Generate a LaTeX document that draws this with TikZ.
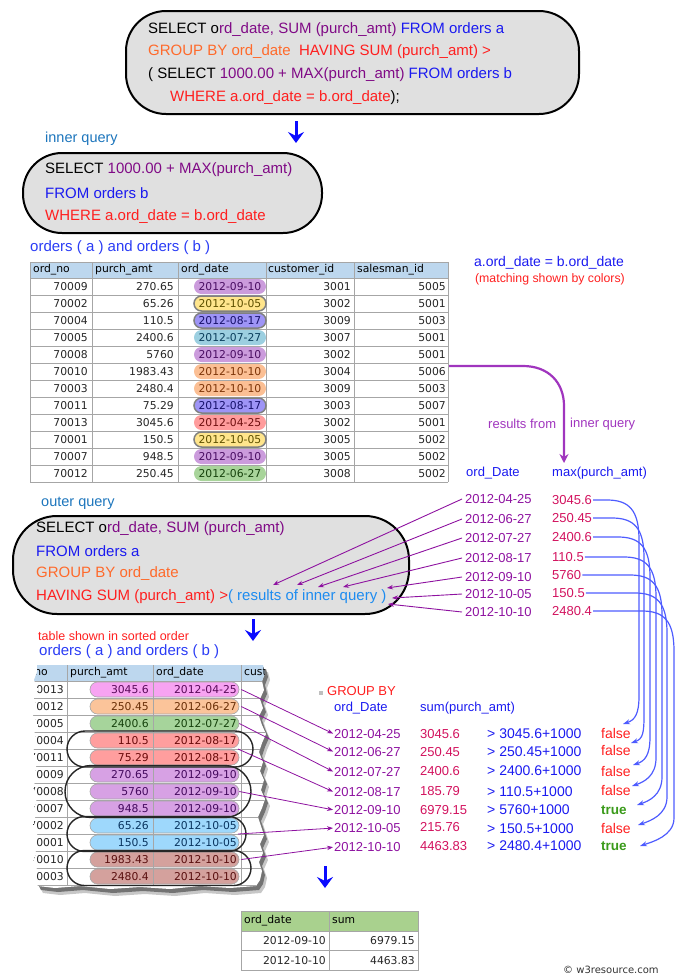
\documentclass[tikz,border=0pt]{standalone}
\usepackage{fontspec}
\setmainfont{Liberation Sans}
\newfontfamily\vfont{DejaVu Sans}
\usetikzlibrary{arrows.meta,shapes.misc}
\definecolor{boxgray}{HTML}{E0E0E0}
\definecolor{cpurple}{HTML}{800A86}
\definecolor{cblue}{HTML}{1A1AF0}
\definecolor{corange}{HTML}{FF6A2B}
\definecolor{cred}{HTML}{FF1F1F}
\definecolor{clblue}{HTML}{1E8CF0}
\definecolor{clabel}{HTML}{1C75BC}
\definecolor{ctitle}{HTML}{2A3CF5}
\definecolor{hdrblue}{HTML}{BDD7EE}
\definecolor{gridc}{HTML}{A6A6A6}
\definecolor{cdate}{HTML}{8E12A0}
\definecolor{cval}{HTML}{D2125E}
\definecolor{ccurve}{HTML}{4E5CFF}
\definecolor{cconn}{HTML}{A035BE}
\definecolor{cgreen}{HTML}{3A9A1A}
\definecolor{hdrgreen}{HTML}{A9D18E}
\definecolor{arrblue}{HTML}{0A0AFF}
% pills table 1
\definecolor{fA}{HTML}{CB9BDC}\definecolor{tA}{HTML}{4A0E63}
\definecolor{fB}{HTML}{FFE58C}\definecolor{tB}{HTML}{5E5000}
\definecolor{fC}{HTML}{9E94F6}\definecolor{tC}{HTML}{16106A}
\definecolor{fD}{HTML}{9CCFE0}\definecolor{tD}{HTML}{0B3E5C}
\definecolor{fE}{HTML}{FBBF94}\definecolor{tE}{HTML}{7E3508}
\definecolor{fF}{HTML}{FF9C9C}\definecolor{tF}{HTML}{701010}
\definecolor{fG}{HTML}{A8D49A}\definecolor{tG}{HTML}{16420C}
% pills sorted table
\definecolor{sA}{HTML}{F7A3F2}\definecolor{uA}{HTML}{5A0A5A}
\definecolor{sB}{HTML}{FBC49A}\definecolor{uB}{HTML}{6A3008}
\definecolor{sC}{HTML}{A6D49B}\definecolor{uC}{HTML}{16420C}
\definecolor{sD}{HTML}{FF9E9E}\definecolor{uD}{HTML}{6A0A0A}
\definecolor{sE}{HTML}{D7A1E4}\definecolor{uE}{HTML}{440A5E}
\definecolor{sF}{HTML}{9ED8FC}\definecolor{uF}{HTML}{0A3560}
\definecolor{sG}{HTML}{D4A19D}\definecolor{uG}{HTML}{5A1010}
\begin{document}
\begin{tikzpicture}[x=1pt,y=-1pt,
  sqlbox/.style={draw=black, line width=2pt, fill=boxgray, anchor=north west, inner sep=0pt},
  sq/.style={anchor=west, inner sep=0pt, font=\fontsize{15}{18}\selectfont},
  lbl/.style={anchor=west, inner sep=0pt, font=\fontsize{13}{16}\selectfont},
  tb/.style={inner sep=0pt, font=\vfont\fontsize{10.8}{12}\selectfont, text=black!85},
  pill/.style={rounded rectangle, inner sep=0pt, minimum height=15pt, minimum width=72pt, font=\vfont\fontsize{10.8}{12}\selectfont},
  pillA/.style={fill=fA, text=tA},
  pillB/.style={fill=fB, text=tB, draw=black!50, line width=1.5pt},
  pillC/.style={fill=fC, text=tC, draw=black!50, line width=1.5pt},
  pillD/.style={fill=fD, text=tD},
  pillE/.style={fill=fE, text=tE},
  pillF/.style={fill=fF, text=tF},
  pillG/.style={fill=fG, text=tG},
  spill/.style={rounded rectangle, inner sep=0pt, minimum height=15pt, minimum width=149pt, draw=black!35, line width=0.6pt},
  groupoval/.style={rounded rectangle, draw=black!85, line width=1.4pt, inner sep=0pt},
  bigarrow/.style={draw=arrblue, line width=3pt, -{Stealth[length=11pt,width=16pt,inset=4pt]}},
  parrow/.style={draw=cdate, line width=0.9pt, -{Stealth[length=6pt,width=4.5pt]}},
  garrow/.style={draw=cdate, line width=0.8pt, shorten >=1pt, -{Stealth[length=6pt,width=4.5pt]}},
  bcurve/.style={draw=ccurve, line width=1.2pt, -{Stealth[length=7pt,width=5pt]}},
  isfalse/.style={text=cred, font=\fontsize{14}{16}\selectfont},
  istrue/.style={text=cgreen, font=\bfseries\fontsize{13.5}{16}\selectfont}
]
\useasboundingbox (0,0) rectangle (684,980);

% ---------- top query ----------
\node[sqlbox, rounded corners=40pt, minimum width=453pt, minimum height=103pt] (topbox) at (125,10) {};
\node[sq] (q1) at (148,30) {SELECT o\textcolor{cpurple}{rd\_date, SUM (purch\_amt)} \textcolor{cblue}{FROM orders a}};
\node[sq] (q2) at (148,52) {\textcolor{corange}{GROUP BY ord\_date}\ \ \textcolor{cred}{HAVING SUM (purch\_amt) >}};
\node[sq] (q3) at (148,75) {( SELECT \textcolor{cpurple}{1000.00 + MAX(purch\_amt)} \textcolor{cblue}{FROM orders b}};
\node[sq] (q4) at (170,98) {\textcolor{cred}{WHERE a.ord\_date = b.ord\_date});};

\coordinate (a1s) at (296,121);
\coordinate (a1e) at (296,143);
\draw[bigarrow] (a1s) -- (a1e);

% ---------- inner query ----------
\node[anchor=west, inner sep=0pt, text=clabel, font=\fontsize{14.5}{17}\selectfont] (innerlbl) at (45,139) {inner query};
\node[sqlbox, rounded corners=39pt, minimum width=299pt, minimum height=80pt] (innerbox) at (22,152) {};
\node[sq] (i1) at (45,170) {SELECT \textcolor{cpurple}{1000.00 + MAX(purch\_amt)}};
\node[sq] (i2) at (45,193) {\textcolor{cblue}{FROM orders b}};
\node[sq] (i3) at (45,217) {\textcolor{cred}{WHERE a.ord\_date = b.ord\_date}};

% ---------- table 1 ----------
\node[sq, text=ctitle] (t1title) at (30,248) {orders ( a ) and orders ( b )};
\fill[hdrblue] (30,262) rectangle (448,278);
\foreach \yy in {262,278,295,312,329,346,363,380,397,414,431,448,465,482}
  \draw[gridc, line width=0.8pt] (30,\yy) -- (448,\yy);
\foreach \xx in {30,92,178,266,354,448}
  \draw[gridc, line width=0.8pt] (\xx,262) -- (\xx,482);
\node[tb,anchor=west,text=black] (h1) at (33,270) {ord\_no};
\node[tb,anchor=west,text=black] (h2) at (95,270) {purch\_amt};
\node[tb,anchor=west,text=black] (h3) at (181,270) {ord\_date};
\node[tb,anchor=west,text=black] (h4) at (268,270) {customer\_id};
\node[tb,anchor=west,text=black] (h5) at (357,270) {salesman\_id};
\foreach \n/\a/\d/\c/\s/\st [count=\i] in {
70009/270.65/2012-09-10/3001/5005/pillA,
70002/65.26/2012-10-05/3002/5001/pillB,
70004/110.5/2012-08-17/3009/5003/pillC,
70005/2400.6/2012-07-27/3007/5001/pillD,
70008/5760/2012-09-10/3002/5001/pillA,
70010/1983.43/2012-10-10/3004/5006/pillE,
70003/2480.4/2012-10-10/3009/5003/pillE,
70011/75.29/2012-08-17/3003/5007/pillC,
70013/3045.6/2012-04-25/3002/5001/pillF,
70001/150.5/2012-10-05/3005/5002/pillB,
70007/948.5/2012-09-10/3005/5002/pillA,
70012/250.45/2012-06-27/3008/5002/pillG}{
  \pgfmathsetmacro{\yy}{286.5+17*(\i-1)}
  \node[tb,anchor=east] (ta\i) at (88,\yy) {\n};
  \node[tb,anchor=east] (tp\i) at (174,\yy) {\a};
  \node[pill,\st] (td\i) at (230,\yy) {\d};
  \node[tb,anchor=east] (tc\i) at (351,\yy) {\c};
  \node[tb,anchor=east] (ts\i) at (446,\yy) {\s};
}

% ---------- right notes ----------
\node[inner sep=0pt, text=cblue, font=\fontsize{14}{16}\selectfont] (eqnote) at (549,263) {a.ord\_date = b.ord\_date};
\node[inner sep=0pt, text=cred, font=\fontsize{12.3}{14}\selectfont] (matchnote) at (550,279) {(matching shown by colors)};

\coordinate (tconn) at (449,366);
\coordinate (inres) at (564,463);
\draw[draw=cconn, line width=2.2pt, -{Stealth[length=9pt,width=9pt]}] (tconn) -- (523,366) .. controls (548,366) and (564,382) .. (564,406) -- (inres);
\node[lbl, text=cconn] (resfrom) at (488,424) {results from};
\node[lbl, text=cconn] (resinner) at (570,424) {inner query};

\node[lbl, text=cblue] (odh) at (466,473) {ord\_Date};
\node[lbl, text=cblue] (mxh) at (552,473) {max(purch\_amt)};

\foreach \dy/\dt/\my/\mv [count=\k] in {
499/2012-04-25/500/3045.6,
519/2012-06-27/518/250.45,
538/2012-07-27/537/2400.6,
558/2012-08-17/557/110.5,
577/2012-09-10/575/5760,
594/2012-10-05/593/150.5,
612/2012-10-10/611/2480.4}{
  \node[lbl, text=cdate] (d\k) at (465,\dy) {\dt};
  \node[lbl, text=cval] (m\k) at (552,\my) {\mv};
}

% ---------- outer query ----------
\node[anchor=west, inner sep=0pt, text=clabel, font=\fontsize{14.5}{17}\selectfont] (outerlbl) at (41,503) {outer query};
\node[sqlbox, rounded corners=44pt, minimum width=396pt, minimum height=98pt] (outerbox) at (12,515) {};
\node[sq] (o1) at (36,529) {SELECT o\textcolor{cpurple}{rd\_date, SUM (purch\_amt)}};
\node[sq] (o2) at (36,551) {\textcolor{cblue}{FROM orders a}};
\node[sq] (o3) at (36,574) {\textcolor{corange}{GROUP BY ord\_date}};
\node[sq] (o4) at (36,597) {\textcolor{cred}{HAVING SUM (purch\_amt) >}\textcolor{clblue}{( results of inner query )}};

\foreach \k/\tx/\ty in {1/273/585,2/297/585,3/318/587,4/343/587,5/387/588,6/392/598,7/388/604}{
  \coordinate (ot\k) at (\tx,\ty);
  \draw[parrow] ([xshift=-3pt]d\k.west) -- (ot\k);
}

% ---------- blue curves ----------
\foreach \k/\vx/\sy/\tx/\ty in {1/639/500/623/724,2/644/518/631/743,3/650/537/633/765,4/656/557/632/786,5/662/575/637/805,6/667/593/638/825,7/674/611/640/846}{
  \coordinate (bt\k) at (\tx,\ty);
  \draw[bcurve] ([xshift=1pt]m\k.east) -- (\vx-32,\sy) .. controls (\vx-10,\sy) and (\vx,\sy+10) .. (\vx,\sy+40) -- (\vx,\ty-28) .. controls (\vx,\ty-10) and (\tx+12,\ty-4) .. (bt\k);
}

% ---------- sorted table ----------
\coordinate (a2s) at (253,619);
\coordinate (a2e) at (253,641);
\draw[bigarrow] (a2s) -- (a2e);
\node[anchor=west, inner sep=0pt, text=cred, font=\fontsize{12.5}{15}\selectfont] (sortnote) at (38,636) {table shown in sorted order};
\node[sq, text=ctitle] (t2title) at (39,652) {orders ( a ) and orders ( b )};

\def\tornpath{(37,665) -- (263,665) -- (265,673) -- (262,681) -- (264,690) -- (260,699) -- (263,708) -- (259,716) -- (262,725) -- (266,734) -- (262,743) -- (259,752) -- (263,762) -- (260,771) -- (264,780) -- (261,790) -- (265,799) -- (262,808) -- (258,817) -- (261,826) -- (264,835) -- (260,844) -- (263,853) -- (259,862) -- (262,871) -- (260,880) -- (256,886) -- (230,888) -- (200,886) -- (170,889) -- (140,887) -- (110,889) -- (80,886) -- (55,888) -- (38,886) -- (34,878) -- (37,869) -- (33,860) -- (36,851) -- (34,842) -- (38,833) -- (33,824) -- (36,815) -- (34,806) -- (38,797) -- (33,788) -- (36,779) -- (35,770) -- (38,761) -- (33,752) -- (36,743) -- (34,734) -- (38,725) -- (33,716) -- (36,707) -- (34,698) -- (38,689) -- (34,680) -- (37,672) -- cycle}
\begin{scope}[shift={(5,7)}]
  \fill[black!22] \tornpath;
\end{scope}
\begin{scope}[shift={(3,4)}]
  \fill[black!55] \tornpath;
\end{scope}
\begin{scope}
  \clip \tornpath;
  \fill[white] (20,660) rectangle (280,895);
  \fill[hdrblue] (20,665) rectangle (280,681);
  \foreach \yy in {681,698,715,732,749,766,783,800,817,834,851,868,885}
    \draw[gridc, line width=0.8pt] (20,\yy) -- (280,\yy);
  \foreach \xx in {67,241}
    \draw[gridc, line width=0.8pt] (\xx,665) -- (\xx,885);
  \node[tb,anchor=east,text=black] (sh1) at (48,673) {ord\_no};
  \node[tb,anchor=west,text=black] (sh2) at (70,673) {purch\_amt};
  \node[tb,anchor=west,text=black] (sh3) at (156,673) {ord\_date};
  \node[tb,anchor=west,text=black] (sh4) at (244,673) {customer\_id};
  \foreach \n/\a/\d/\fc/\tc [count=\i] in {
  70013/3045.6/2012-04-25/sA/uA,
  70012/250.45/2012-06-27/sB/uB,
  70005/2400.6/2012-07-27/sC/uC,
  70004/110.5/2012-08-17/sD/uD,
  70011/75.29/2012-08-17/sD/uD,
  70009/270.65/2012-09-10/sE/uE,
  70008/5760/2012-09-10/sE/uE,
  70007/948.5/2012-09-10/sE/uE,
  70002/65.26/2012-10-05/sF/uF,
  70001/150.5/2012-10-05/sF/uF,
  70010/1983.43/2012-10-10/sG/uG,
  70003/2480.4/2012-10-10/sG/uG}{
    \pgfmathsetmacro{\yy}{689.5+17*(\i-1)}
    \node[spill, fill=\fc] (sp\i) at (164.5,\yy) {};
    \node[tb,anchor=east] (sn\i) at (64,\yy) {\n};
    \node[tb,anchor=east,text=\tc] (sa\i) at (149,\yy) {\a};
    \node[tb,anchor=east,text=\tc] (sd\i) at (237,\yy) {\d};
  }
  \draw[gridc, line width=0.6pt] (153,665) -- (153,885);
\end{scope}

\node[groupoval, minimum width=186pt, minimum height=36pt] (ov1) at (160,749) {};
\node[groupoval, minimum width=186pt, minimum height=52pt] (ov2) at (158,791.5) {};
\node[groupoval, minimum width=179pt, minimum height=35pt] (ov3) at (156.5,834) {};
\node[groupoval, minimum width=184pt, minimum height=35pt] (ov4) at (159,868) {};

% ---------- GROUP BY area ----------
\fill[black!25] (319,691) rectangle (323,695);
\node[lbl, text=cred] (gb) at (327,691) {GROUP BY};
\node[lbl, text=cblue] (godh) at (334,708) {ord\_Date};
\node[lbl, text=cblue] (gsh) at (420,708) {sum(purch\_amt)};

\foreach \gy/\dt/\sy/\sv/\cy/\cv/\fy/\fv/\fs [count=\k] in {
734/2012-04-25/734/3045.6/734/3045.6/733/false/isfalse,
752/2012-06-27/752/250.45/752/250.45/750/false/isfalse,
772/2012-07-27/771/2400.6/771/2400.6/771/false/isfalse,
792/2012-08-17/791/185.79/792/110.5/790/false/isfalse,
810/2012-09-10/810/6979.15/810/5760/810/true/istrue,
828/2012-10-05/827/215.76/829/150.5/828/false/isfalse,
847/2012-10-10/846/4463.83/846/2480.4/846/true/istrue}{
  \node[lbl, text=cdate] (g\k) at (334,\gy) {\dt};
  \node[lbl, text=cval] (s\k) at (420,\sy) {\sv};
  \node[anchor=west, inner sep=0pt, text=cblue, font=\fontsize{14}{16}\selectfont] (c\k) at (487,\cy) {> \cv+1000};
  \node[anchor=west, inner sep=0pt, \fs] (f\k) at (601,\fy) {\fv};
}

\coordinate (sc4) at (238,749);
\coordinate (sc6) at (238,834);
\draw[garrow] ([xshift=2pt]sp1.east) -- (g1.west);
\draw[garrow] ([xshift=2pt]sp2.east) -- (g2.west);
\draw[garrow] (sp3.east) -- (g3.west);
\draw[garrow] (sc4) -- (g4.west);
\draw[garrow] (sp7.east) -- (g5.west);
\draw[garrow] (sc6) -- (g6.west);
\draw[garrow] ([xshift=2pt]sp11.east) -- (g7.west);

% ---------- result ----------
\coordinate (a3s) at (325,866);
\coordinate (a3e) at (325,888);
\draw[bigarrow] (a3s) -- (a3e);
\fill[hdrgreen] (241,911) rectangle (418,931);
\draw[gridc, line width=0.8pt] (241,911) rectangle (418,970);
\draw[gridc, line width=0.8pt] (241,931) -- (418,931) (241,950) -- (418,950) (329,911) -- (329,970);
\node[tb,anchor=west,text=black] (rh1) at (244,921) {ord\_date};
\node[tb,anchor=west,text=black] (rh2) at (332,921) {sum};
\node[tb,anchor=east] (r11) at (326,941) {2012-09-10};
\node[tb,anchor=east] (r12) at (415,941) {6979.15};
\node[tb,anchor=east] (r21) at (326,960.5) {2012-10-10};
\node[tb,anchor=east] (r22) at (415,960.5) {4463.83};

\node[anchor=west, inner sep=0pt, text=black!80, font=\vfont\fontsize{10}{12}\selectfont] (copy) at (563,970) {\char"00A9\ w3resource.com};
\end{tikzpicture}
\end{document}
